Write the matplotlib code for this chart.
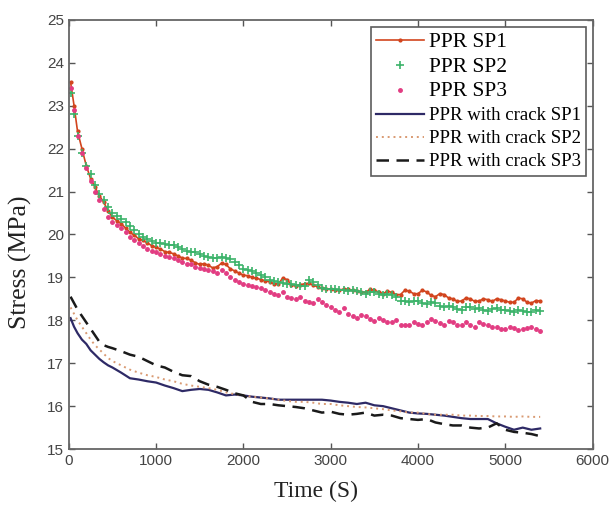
import matplotlib
matplotlib.use("Agg")
import matplotlib.pyplot as plt
from matplotlib import font_manager

# sampling times (s)
time_ppr = [20, 60, 100, 150, 200, 250, 300, 350, 400, 450, 500, 550] + list(range(600, 5401, 50))
time_crack = [20, 60, 100, 150, 200, 250, 300, 350, 400, 450, 500] + list(range(600, 5401, 100))

ppr_sp1 = [23.55, 23.0, 22.4, 22.0, 21.6, 21.3, 21.1, 20.9, 20.75, 20.55, 20.4, 20.32,
           20.25, 20.15, 20.05, 19.98, 19.9, 19.86, 19.8, 19.74,
           19.7, 19.66, 19.6, 19.58, 19.55, 19.5, 19.45, 19.44, 19.4, 19.34,
           19.3, 19.32, 19.28, 19.22, 19.25, 19.33, 19.3, 19.2, 19.15, 19.1,
           19.05, 19.04, 19.0, 18.98, 18.95, 18.92, 18.9, 18.85, 18.85, 18.98,
           18.95, 18.82, 18.8, 18.83, 18.85, 18.86, 18.82, 18.78, 18.75, 18.74,
           18.72, 18.7, 18.7, 18.73, 18.72, 18.7, 18.68, 18.66, 18.65, 18.72,
           18.7, 18.66, 18.62, 18.68, 18.65, 18.6, 18.6, 18.7, 18.68, 18.62,
           18.62, 18.7, 18.66, 18.58, 18.55, 18.62, 18.6, 18.52, 18.5, 18.44,
           18.45, 18.52, 18.5, 18.44, 18.45, 18.5, 18.48, 18.44, 18.5, 18.48,
           18.45, 18.42, 18.42, 18.52, 18.5, 18.42, 18.4, 18.46, 18.45]
ppr_sp2 = [23.3, 22.8, 22.3, 21.9, 21.6, 21.4, 21.15, 20.95, 20.8, 20.65, 20.5, 20.42,
           20.35, 20.28, 20.2, 20.1, 20.0, 19.95, 19.9, 19.85,
           19.8, 19.8, 19.78, 19.76, 19.75, 19.7, 19.65, 19.62, 19.6, 19.58,
           19.55, 19.5, 19.48, 19.46, 19.45, 19.48, 19.45, 19.42, 19.35, 19.28,
           19.2, 19.18, 19.15, 19.1, 19.05, 19.0, 18.95, 18.92, 18.9, 18.88,
           18.85, 18.84, 18.82, 18.8, 18.8, 18.95, 18.9, 18.82, 18.75, 18.74,
           18.72, 18.72, 18.7, 18.7, 18.68, 18.7, 18.68, 18.65, 18.62, 18.66,
           18.65, 18.62, 18.6, 18.62, 18.6, 18.55, 18.45, 18.46, 18.42, 18.44,
           18.45, 18.4, 18.38, 18.42, 18.4, 18.34, 18.3, 18.33, 18.3, 18.27,
           18.25, 18.3, 18.3, 18.26, 18.28, 18.24, 18.22, 18.26, 18.28, 18.25,
           18.25, 18.22, 18.2, 18.24, 18.22, 18.2, 18.2, 18.24, 18.22]
ppr_sp3 = [23.4, 22.9, 22.3, 21.9, 21.55, 21.25, 21.0, 20.8, 20.6, 20.4, 20.3, 20.22,
           20.15, 20.05, 19.95, 19.88, 19.8, 19.72, 19.65, 19.62,
           19.6, 19.55, 19.5, 19.48, 19.45, 19.4, 19.35, 19.32, 19.3, 19.25,
           19.22, 19.2, 19.18, 19.14, 19.1, 19.18, 19.1, 19.02, 18.95, 18.9,
           18.85, 18.82, 18.8, 18.78, 18.75, 18.7, 18.65, 18.62, 18.6, 18.65,
           18.55, 18.52, 18.5, 18.55, 18.45, 18.42, 18.4, 18.5, 18.42, 18.36,
           18.3, 18.25, 18.2, 18.28, 18.15, 18.1, 18.05, 18.12, 18.1, 18.02,
           17.98, 18.05, 18.0, 17.95, 17.95, 18.0, 17.9, 17.88, 17.88, 17.95,
           17.92, 17.9, 17.95, 18.02, 17.98, 17.94, 17.9, 17.98, 17.95, 17.9,
           17.9, 17.96, 17.88, 17.85, 17.95, 17.92, 17.9, 17.85, 17.85, 17.8,
           17.8, 17.85, 17.82, 17.78, 17.8, 17.82, 17.85, 17.8, 17.75]
crack_sp1 = [18.05, 17.85, 17.7, 17.55, 17.45, 17.3, 17.2, 17.1, 17.02, 16.95, 16.9,
             16.78, 16.65, 16.62, 16.58, 16.55, 16.48, 16.42, 16.35, 16.38, 16.4, 16.38, 16.32, 16.25, 16.27,
             16.25, 16.22, 16.2, 16.18, 16.15, 16.15, 16.15, 16.15, 16.15, 16.15, 16.13, 16.1, 16.08, 16.05,
             16.08, 16.02, 16.0, 15.95, 15.9, 15.85, 15.83, 15.82, 15.8, 15.78, 15.75, 15.72, 15.7, 15.7,
             15.7, 15.6, 15.52, 15.45, 15.5, 15.45, 15.48]
crack_sp2 = [18.3, 18.15, 18.0, 17.85, 17.7, 17.55, 17.42, 17.32, 17.22, 17.12, 17.05,
             16.95, 16.85, 16.78, 16.72, 16.68, 16.62, 16.58, 16.52, 16.48, 16.45, 16.42, 16.38, 16.32, 16.28,
             16.25, 16.22, 16.2, 16.18, 16.15, 16.12, 16.1, 16.1, 16.08, 16.05, 16.05, 16.02, 16.0, 15.98,
             15.97, 15.95, 15.93, 15.9, 15.88, 15.85, 15.85, 15.82, 15.8, 15.8, 15.8, 15.78, 15.78, 15.77,
             15.77, 15.76, 15.76, 15.75, 15.76, 15.75, 15.75]
crack_sp3 = [18.55, 18.4, 18.25, 18.1, 17.95, 17.8, 17.65, 17.5, 17.42, 17.38, 17.35,
             17.28, 17.2, 17.15, 17.05, 16.95, 16.9, 16.8, 16.72, 16.7, 16.58, 16.5, 16.45, 16.38, 16.3,
             16.25, 16.1, 16.05, 16.05, 16.02, 16.0, 15.98, 15.95, 15.9, 15.85, 15.87, 15.82, 15.8, 15.82,
             15.85, 15.78, 15.8, 15.78, 15.72, 15.7, 15.68, 15.7, 15.62, 15.58, 15.55, 15.55, 15.5, 15.48,
             15.5, 15.6, 15.45, 15.4, 15.38, 15.35, 15.3]

x_ticks = [0, 1000, 2000, 3000, 4000, 5000, 6000]
y_ticks = [15, 16, 17, 18, 19, 20, 21, 22, 23, 24, 25]

installed = {f.name for f in font_manager.fontManager.ttflist}
tick_font = "Liberation Sans Narrow" if "Liberation Sans Narrow" in installed else "Liberation Sans"
tick_size = 12 if tick_font == "Liberation Sans Narrow" else 11
serif = "Liberation Serif"

fig = plt.figure(figsize=(6.09, 5.08), dpi=100)
ax = fig.add_axes([0.113, 0.116, 0.860, 0.845])

ax.plot(time_ppr, ppr_sp1, color="#d2451e", marker=".", markersize=4, linewidth=1.2, label="PPR SP1")
ax.plot(time_ppr, ppr_sp2, color="#3cb36a", marker="+", markersize=5.5, linestyle="none",
        markeredgewidth=1.2, label="PPR SP2")
ax.plot(time_ppr, ppr_sp3, color="#e23c82", marker=".", markersize=5, linestyle="none", label="PPR SP3")
ax.plot(time_crack, crack_sp1, color="#2e2a66", linewidth=1.6, label="PPR with crack SP1")
ax.plot(time_crack, crack_sp2, color="#d99a72", linewidth=1.4, linestyle=(0, (1, 2)), label="PPR with crack SP2")
ax.plot(time_crack, crack_sp3, color="#1a1a1a", linewidth=1.8, linestyle=(0, (5, 3)), label="PPR with crack SP3")

ax.set_xlim(0, 6000)
ax.set_ylim(15, 25)
ax.set_xticks(x_ticks)
ax.set_yticks(y_ticks)
ax.tick_params(direction="in", top=True, right=True, length=4, width=1, colors="#555555",
               labelsize=tick_size, labelcolor="#444444")
for lab in ax.get_xticklabels() + ax.get_yticklabels():
    lab.set_family(tick_font)
for sp in ax.spines.values():
    sp.set_color("#666666")
    sp.set_linewidth(1.3)

ax.set_xlabel("Time (S)", family=serif, fontsize=17, color="#222222")
ax.set_ylabel("Stress (MPa)", family=serif, fontsize=18.5, color="#222222")
ax.xaxis.set_label_coords(0.472, -0.075)
ax.yaxis.set_label_coords(-0.070, 0.436)

leg = ax.legend(loc="upper right", bbox_to_anchor=(0.988, 0.983), prop={"family": serif, "size": 13.5},
                frameon=True, fancybox=False, edgecolor="#333333", handlelength=2.55,
                handletextpad=0.25, labelspacing=0.31, borderpad=0.3, borderaxespad=0.0, numpoints=1)
leg.get_frame().set_linewidth(1.2)
for txt in leg.get_texts()[:3]:
    txt.set_fontsize(15.5)

fig.savefig("out.png", dpi=100)
